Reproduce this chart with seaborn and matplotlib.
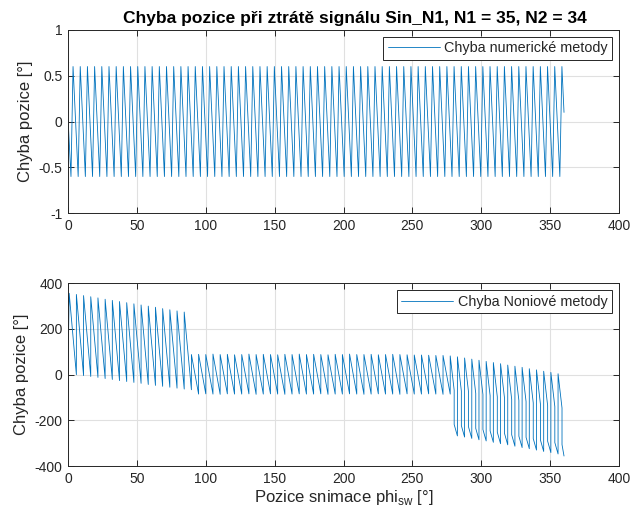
import numpy as np
import pandas as pd
import matplotlib
matplotlib.use("Agg")
import matplotlib.pyplot as plt
import seaborn as sns

# ---- data ----
N1, N2 = 35, 34
n_teeth = N1 + N2  # one error tooth per 360/(N1+N2) degrees

# numeric method: asymmetric saw between these levels
num_lo, num_hi = -0.6, 0.6
num_first_low = 2.2      # position of the first minimum [deg]
num_rise = 1.5           # width of the rising edge [deg]
num_start, num_end = 0.05, 0.1

# vernier method: one top / low value per tooth
non_first_rise = 0.9
non_tops = [356, 351, 346, 341, 336, 330, 325, 320, 315, 310, 305, 300, 295, 289, 284, 279, 274,
            88, 89, 88, 90, 88, 89, 87, 88, 90, 88, 89, 88, 87, 89, 88, 90, 88,
            89, 88, 87, 89, 88, 90, 88, 88, 89, 87, 88, 89, 88, 87, 86, 86, 85, 84, 84,
            82, 78, 73, 68, 63, 58, 53, 48, 42, 37, 32, 26, 21, 15, 10, 4]
non_lows = [0, -4, -8, -12, -17, -21, -26, -30, -34, -38, -43, -47, -51, -55, -59, -63, -66,
            -85, -84, -85, -86, -84, -85, -85, -84, -86, -85, -84, -85, -86, -85, -84, -85, -85,
            -84, -86, -85, -85, -84, -85, -86, -85, -84, -85, -85, -86, -84, -85, -85, -84, -85, -86, -85,
            -268, -273, -279, -285, -290, -296, -302, -307, -313, -319, -324, -330, -336, -341, -347, -356]
# last segment: ramp breaks at mid_frac of the tooth, drops by this much
non_mid_drop = [150] * 16
non_low_gap = [50] * 16
mid_frac = 0.55

period = 360.0 / n_teeth

# numeric error polyline
nx = [0.0]
ny = [num_start]
for k in range(n_teeth):
    b = num_first_low + k * period
    nx += [b, b + num_rise]
    ny += [num_lo, num_hi]
nx.append(360.0)
ny.append(num_end)
df_num = pd.DataFrame({"phi": nx, "err": ny})

# vernier error polyline
vx = [0.0]
vy = [2.0]
seg3 = len(non_tops) - len(non_mid_drop)
for k in range(n_teeth):
    r = non_first_rise + k * period
    nxt = min(r + period, 360.0)
    vx.append(r)
    vy.append(non_tops[k])
    if k >= seg3:
        j = k - seg3
        m = r + mid_frac * period
        mid = non_tops[k] - non_mid_drop[j]
        vx += [m, m]
        vy += [mid, non_lows[k] + non_low_gap[j]]
    vx.append(nxt)
    vy.append(non_lows[k])
df_non = pd.DataFrame({"phi": vx, "err": vy})

# ---- style ----
sns.set_theme(style="whitegrid")
plt.rcParams["font.family"] = ["Liberation Sans", "DejaVu Sans"]
plt.rcParams["mathtext.fontset"] = "custom"
plt.rcParams["mathtext.rm"] = "Liberation Sans"
plt.rcParams["axes.unicode_minus"] = False

blue = "#0072BD"
dark = "#262626"

fig = plt.figure(figsize=(6.35, 5.15), dpi=100)
ax1 = fig.add_axes([0.107, 0.586, 0.868, 0.356])
ax2 = fig.add_axes([0.107, 0.095, 0.868, 0.355])

sns.lineplot(data=df_num, x="phi", y="err", sort=False, estimator=None, ax=ax1,
             color=blue, linewidth=0.6, label="Chyba numerické metody")
sns.lineplot(data=df_non, x="phi", y="err", sort=False, estimator=None, ax=ax2,
             color=blue, linewidth=0.6, label="Chyba Noniové metody")

ax1.set_ylim(-1, 1)
ax1.set_yticks([-1, -0.5, 0, 0.5, 1])
ax1.set_yticklabels(["-1", "-0.5", "0", "0.5", "1"])
ax2.set_ylim(-400, 400)
ax2.set_yticks([-400, -200, 0, 200, 400])

for ax in (ax1, ax2):
    ax.set_xlim(0, 400)
    ax.set_xticks(np.arange(0, 401, 50))
    ax.set_facecolor("white")
    ax.grid(True, color="#E0E0E0", linewidth=0.8)
    for s in ax.spines.values():
        s.set_color(dark)
        s.set_linewidth(0.7)
    ax.tick_params(direction="in", length=4, width=0.7, color=dark, labelcolor=dark,
                   labelsize=10, top=True, right=True, bottom=True, left=True, pad=4)
    ax.set_ylabel("Chyba pozice [°]", fontsize=12, color=dark)
    ax.set_xlabel("")
    leg = ax.legend(loc="upper right", fontsize=10.4, handlelength=3.6, handletextpad=0.3,
                    fancybox=False, framealpha=1, borderpad=0.3, borderaxespad=0.5)
    leg.get_frame().set_edgecolor(dark)
    leg.get_frame().set_linewidth(0.7)

ax1.set_title("Chyba pozice při ztrátě signálu Sin_N1, N1 = 35, N2 = 34",
              fontsize=12.5, fontweight="bold", color="black", pad=5, x=0.52)
ax2.set_xlabel("Pozice snimace phi$_{\\mathrm{sw}}$ [°]", fontsize=12, color=dark, labelpad=2)

fig.savefig("out.png", dpi=100, facecolor="white")
